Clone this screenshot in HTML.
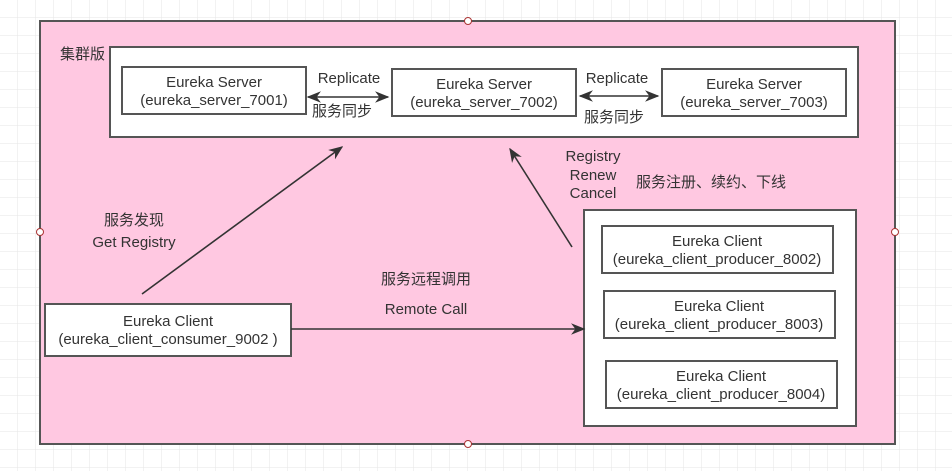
<!DOCTYPE html>
<html><head><meta charset="utf-8"><style>
body{margin:0;background:#fff}
text{font-family:"Liberation Sans","Noto Sans CJK SC",sans-serif;font-size:15px;fill:#333}
</style></head><body>
<svg width="952" height="471" xmlns="http://www.w3.org/2000/svg">
<defs>
<pattern id="g" width="18" height="18" patternUnits="userSpaceOnUse"><path d="M18 0V18H0" fill="none" stroke="#e6e6e6" stroke-width="1"/></pattern>
<marker id="a" viewBox="0 0 10 10" refX="9" refY="5" markerWidth="9" markerHeight="9" orient="auto-start-reverse"><path d="M0 1L10 5L0 9L3 5Z" fill="#333"/></marker>
</defs>
<rect width="952" height="471" fill="url(#g)"/>
<rect x="40" y="21" width="855" height="423" fill="#ffc8e1" stroke="#555" stroke-width="2"/>
<g fill="#fff" stroke="#a33" stroke-width="1"><circle cx="468" cy="21" r="3.5"/><circle cx="40" cy="232" r="3.5"/><circle cx="895" cy="232" r="3.5"/><circle cx="468" cy="444" r="3.5"/></g>
<text x="60" y="59" font-size="13">集群版</text>
<g fill="#fff" stroke="#555" stroke-width="2">
<rect x="110" y="47" width="748" height="90"/>
<rect x="122" y="67" width="184" height="47"/>
<rect x="392" y="69" width="184" height="47"/>
<rect x="662" y="69" width="184" height="47"/>
<rect x="584" y="210" width="272" height="216"/>
<rect x="602" y="226" width="231" height="47"/>
<rect x="604" y="291" width="231" height="47"/>
<rect x="606" y="361" width="231" height="47"/>
<rect x="45" y="304" width="246" height="52"/>
</g>
<g text-anchor="middle">
<text x="214" y="87">Eureka Server</text><text x="214" y="105">(eureka_server_7001)</text>
<text x="484" y="89">Eureka Server</text><text x="484" y="107">(eureka_server_7002)</text>
<text x="754" y="89">Eureka Server</text><text x="754" y="107">(eureka_server_7003)</text>
<text x="717" y="246">Eureka Client</text><text x="717" y="264">(eureka_client_producer_8002)</text>
<text x="719" y="311">Eureka Client</text><text x="719" y="329">(eureka_client_producer_8003)</text>
<text x="721" y="381">Eureka Client</text><text x="721" y="399">(eureka_client_producer_8004)</text>
<text x="168" y="326">Eureka Client</text><text x="168" y="344">(eureka_client_consumer_9002 )</text>
<text x="349" y="83">Replicate</text><text x="342" y="116" font-size="13">服务同步</text>
<text x="617" y="83">Replicate</text><text x="614" y="122" font-size="13">服务同步</text>
<text x="593" y="161">Registry</text><text x="593" y="180">Renew</text><text x="593" y="198">Cancel</text>
<text x="134" y="225" font-size="13">服务发现</text><text x="134" y="247">Get Registry</text>
<text x="426" y="284" font-size="13">服务远程调用</text><text x="426" y="314">Remote Call</text>
</g>
<text x="636" y="187" font-size="13">服务注册、续约、下线</text>
<g stroke="#333" stroke-width="1.6" fill="none" marker-end="url(#a)">
<line x1="308" y1="97" x2="388" y2="97" marker-start="url(#a)"/>
<line x1="580" y1="96" x2="658" y2="96" marker-start="url(#a)"/>
<line x1="142" y1="294" x2="342" y2="147"/>
<line x1="572" y1="247" x2="510" y2="149"/>
<line x1="291" y1="329" x2="584" y2="329"/>
</g>
</svg>
</body></html>
